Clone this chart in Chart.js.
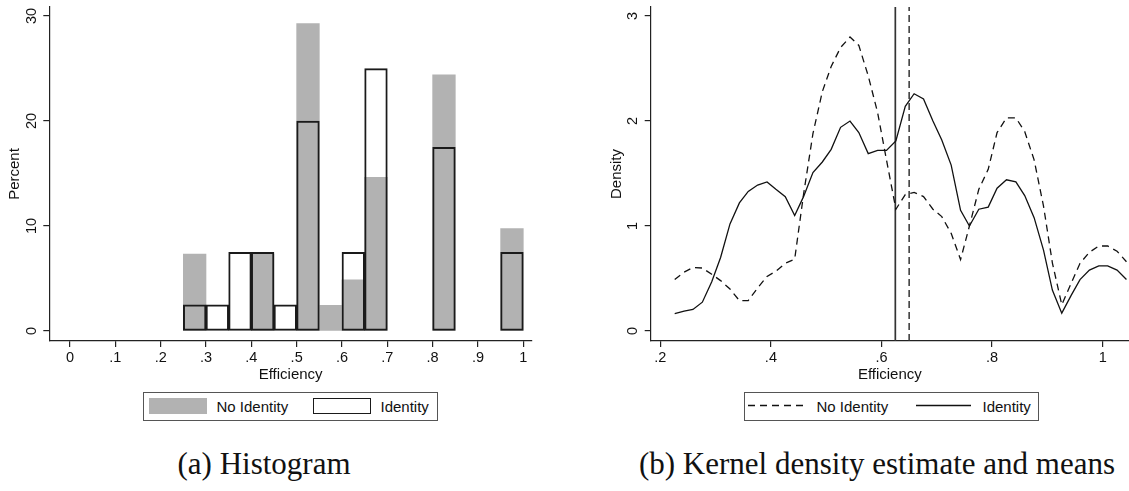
<!DOCTYPE html>
<html>
<head>
<meta charset="utf-8">
<title>Efficiency by identity</title>
<script src="https://cdn.jsdelivr.net/npm/chart.js@4.4.1/dist/chart.umd.min.js"></script>
<style>
  html, body { margin: 0; padding: 0; background: #fff; }
  body {
    width: 1129px; height: 491px; position: relative; overflow: hidden;
    font-family: "Liberation Sans", Arial, Helvetica, sans-serif; color: #111;
  }
  .panel { position: absolute; top: 0; height: 390px; }
  #hist-wrap { left: 0; width: 545px; }
  #kde-wrap { left: 600px; width: 529px; }

  .legend {
    position: absolute; top: 392px; width: 295px; height: 29px;
    box-sizing: border-box; border: 1px solid #555; font-size: 15px;
  }
  #hist-legend { left: 143px; }
  #kde-legend { left: 744px; }
  .legend span { position: absolute; top: 0; line-height: 27px; white-space: nowrap; }
  .legend .box { position: absolute; top: 5px; width: 58px; height: 16px; box-sizing: border-box; }
  .legend svg { position: absolute; top: 0; }

  .caption {
    position: absolute; top: 448px; transform: translateX(-50%);
    font-family: "Liberation Serif", "DejaVu Serif", serif;
    font-size: 31px; line-height: 31px; white-space: nowrap; color: #111;
  }
</style>
</head>
<body>
<div id="hist-wrap" class="panel"><canvas id="hist" width="545" height="390"></canvas></div>
<div id="kde-wrap" class="panel"><canvas id="kde" width="529" height="390"></canvas></div>
<div id="hist-legend" class="legend"></div>
<div id="kde-legend" class="legend"></div>
<div class="caption" style="left:264px">(a) Histogram</div>
<div class="caption" style="left:877px">(b) Kernel density estimate and means</div>

<script>
// groups
const SERIES = ['No Identity', 'Identity'];

// histogram: bins of width .05, percent of subjects per bin
const BIN_CENTERS = [0.275, 0.325, 0.375, 0.425, 0.475, 0.525, 0.575, 0.625,
                     0.675, 0.725, 0.775, 0.825, 0.875, 0.925, 0.975];
const PCT_NO_IDENTITY = [7.32, null, null, 7.32, null, 29.27, 2.44, 4.88,
                         14.63, null, null, 24.39, null, null, 9.76];
const PCT_IDENTITY = [2.5, 2.5, 7.5, 7.5, 2.5, 20, null, 7.5,
                      25, null, null, 17.5, null, null, 7.5];

const HIST_X_TICKS = [0, 0.1, 0.2, 0.3, 0.4, 0.5, 0.6, 0.7, 0.8, 0.9, 1];
const HIST_X_LABELS = ['0', '.1', '.2', '.3', '.4', '.5', '.6', '.7', '.8', '.9', '1'];
const HIST_Y_TICKS = [0, 10, 20, 30];
const HIST_Y_LABELS = ['0', '10', '20', '30'];

// kernel density estimates
const KDE_X = [0.226, 0.243, 0.259, 0.276, 0.293, 0.309, 0.326, 0.343, 0.359, 0.376,
               0.393, 0.409, 0.426, 0.443, 0.459, 0.476, 0.493, 0.509, 0.526, 0.543,
               0.559, 0.576, 0.593, 0.609, 0.626, 0.643, 0.659, 0.676, 0.693, 0.709,
               0.726, 0.743, 0.759, 0.776, 0.793, 0.809, 0.826, 0.843, 0.859, 0.876,
               0.893, 0.909, 0.926, 0.943, 0.959, 0.976, 0.993, 1.009, 1.026, 1.043];
const KDE_NO_IDENTITY = [0.49, 0.56, 0.605, 0.60, 0.54, 0.48, 0.40, 0.29, 0.29, 0.41,
                         0.52, 0.57, 0.645, 0.685, 1.30, 1.88, 2.28, 2.52, 2.70, 2.80,
                         2.72, 2.43, 2.08, 1.63, 1.16, 1.30, 1.32, 1.28, 1.16, 1.09,
                         0.93, 0.68, 1.00, 1.35, 1.54, 1.89, 2.03, 2.03, 1.90, 1.63,
                         1.19, 0.65, 0.25, 0.455, 0.645, 0.75, 0.81, 0.81, 0.76, 0.66];
const KDE_IDENTITY = [0.165, 0.19, 0.206, 0.275, 0.47, 0.70, 1.02, 1.22, 1.33, 1.39,
                      1.42, 1.35, 1.28, 1.10, 1.28, 1.51, 1.61, 1.73, 1.94, 2.00,
                      1.89, 1.69, 1.72, 1.72, 1.81, 2.14, 2.26, 2.21, 2.00, 1.82,
                      1.58, 1.15, 1.00, 1.16, 1.18, 1.36, 1.44, 1.42, 1.29, 1.08,
                      0.77, 0.39, 0.17, 0.34, 0.49, 0.58, 0.62, 0.62, 0.58, 0.49];
const MEAN_NO_IDENTITY = 0.65;
const MEAN_IDENTITY = 0.625;

const KDE_X_TICKS = [0.2, 0.4, 0.6, 0.8, 1];
const KDE_X_LABELS = ['.2', '.4', '.6', '.8', '1'];
const KDE_Y_TICKS = [0, 1, 2, 3];
const KDE_Y_LABELS = ['0', '1', '2', '3'];

Chart.defaults.font.family = '"Liberation Sans", Arial, Helvetica, sans-serif';
Chart.defaults.font.size = 15;
Chart.defaults.color = '#111';

const AXIS_COLOR = '#222';
const BAR_GRAY = '#b2b2b2';

function fixedTicks(values) {
    return scale => { scale.ticks = values.map(v => ({ value: v })); };
}

function xAxis(min, max, ticks, labels) {
    return {
        type: 'linear', min: min, max: max,
        offset: false,
        afterBuildTicks: fixedTicks(ticks),
        afterFit: s => { s.height = 49; s.paddingLeft = 0; s.paddingRight = 0; },
        grid: { offset: false, drawOnChartArea: false, drawTicks: true, tickLength: 6,
                color: AXIS_COLOR, lineWidth: 1.2 },
        border: { display: true, color: AXIS_COLOR, width: 1.2 },
        ticks: { autoSkip: false, maxRotation: 0, padding: 2, font: { size: 14.5 },
                 callback: (v, i) => labels[i] },
        title: { display: true, text: 'Efficiency', padding: { top: 0, bottom: 6 } }
    };
}

function yAxis(min, max, ticks, labels, title, width, labelPad, titlePad) {
    return {
        type: 'linear', min: min, max: max,
        afterBuildTicks: fixedTicks(ticks),
        afterFit: s => { s.width = width; s.paddingTop = 0; s.paddingBottom = 0; },
        grid: { drawOnChartArea: false, drawTicks: true, tickLength: 6, color: AXIS_COLOR, lineWidth: 1.2 },
        border: { display: true, color: AXIS_COLOR, width: 1.2 },
        ticks: { autoSkip: false, minRotation: 90, maxRotation: 90, crossAlign: 'center',
                 padding: labelPad, font: { size: 14.5 }, callback: (v, i) => labels[i] },
        title: { display: true, text: title, padding: { top: titlePad, bottom: 0 } }
    };
}

const quiet = { legend: { display: false }, tooltip: { enabled: false } };

// (a) overlaid histograms
new Chart(document.getElementById('hist'), {
    type: 'bar',
    data: {
        datasets: [
            {
                label: SERIES[1],
                data: BIN_CENTERS.map((x, i) => ({ x: x, y: PCT_IDENTITY[i] })),
                backgroundColor: 'rgba(0,0,0,0)',
                borderColor: '#1a1a1a',
                borderWidth: 1.3,
                borderSkipped: false,
                grouped: false, barPercentage: 1, categoryPercentage: 1,
                order: 0
            },
            {
                label: SERIES[0],
                data: BIN_CENTERS.map((x, i) => ({ x: x, y: PCT_NO_IDENTITY[i] })),
                backgroundColor: BAR_GRAY,
                borderWidth: 0,
                grouped: false, barPercentage: 1, categoryPercentage: 1,
                order: 1
            }
        ]
    },
    options: {
        responsive: false,
        animation: false,
        layout: { padding: { top: 7, right: 13, bottom: 0, left: 0 } },
        plugins: quiet,
        scales: {
            x: xAxis(-0.0457, 1.0192, HIST_X_TICKS, HIST_X_LABELS),
            y: yAxis(-0.95, 30.86, HIST_Y_TICKS, HIST_Y_LABELS, 'Percent', 49.3, 3.5, 6)
        }
    }
});

// (b) kernel densities with group means
const KDE_Y_MIN = -0.095;
const KDE_Y_MAX = 3.086;
const lineStyle = { borderColor: '#111', borderWidth: 1.3, pointRadius: 0, tension: 0, fill: false };

new Chart(document.getElementById('kde'), {
    type: 'line',
    data: {
        datasets: [
            Object.assign({
                label: SERIES[0],
                data: KDE_X.map((x, i) => ({ x: x, y: KDE_NO_IDENTITY[i] })),
                borderDash: [7, 5]
            }, lineStyle),
            Object.assign({
                label: SERIES[1],
                data: KDE_X.map((x, i) => ({ x: x, y: KDE_IDENTITY[i] }))
            }, lineStyle),
            Object.assign({}, lineStyle, {
                label: 'mean ' + SERIES[0],
                data: [{ x: MEAN_NO_IDENTITY, y: KDE_Y_MIN }, { x: MEAN_NO_IDENTITY, y: KDE_Y_MAX }],
                borderColor: '#333', borderWidth: 1.5, borderDash: [7, 4]
            }),
            Object.assign({}, lineStyle, {
                label: 'mean ' + SERIES[1],
                data: [{ x: MEAN_IDENTITY, y: KDE_Y_MIN }, { x: MEAN_IDENTITY, y: KDE_Y_MAX }],
                borderColor: '#333', borderWidth: 1.7
            })
        ]
    },
    options: {
        responsive: false,
        animation: false,
        layout: { padding: { top: 7, right: 0, bottom: 0, left: 0 } },
        plugins: quiet,
        scales: {
            x: xAxis(0.1826, 1.0476, KDE_X_TICKS, KDE_X_LABELS),
            y: yAxis(KDE_Y_MIN, KDE_Y_MAX, KDE_Y_TICKS, KDE_Y_LABELS, 'Density', 50.7, 8, 8)
        }
    }
});

// legends under each panel
function legendText(parent, text, left) {
    const s = document.createElement('span');
    s.textContent = text;
    s.style.left = left + 'px';
    parent.appendChild(s);
}

function legendBox(parent, left, fill, border) {
    const b = document.createElement('div');
    b.className = 'box';
    b.style.left = left + 'px';
    b.style.background = fill;
    if (border) b.style.border = border;
    parent.appendChild(b);
}

function legendLine(parent, left, width, dash) {
    const ns = 'http://www.w3.org/2000/svg';
    const svg = document.createElementNS(ns, 'svg');
    svg.setAttribute('width', width);
    svg.setAttribute('height', 27);
    svg.style.left = left + 'px';
    const ln = document.createElementNS(ns, 'line');
    ln.setAttribute('x1', 0); ln.setAttribute('x2', width);
    ln.setAttribute('y1', 12.5); ln.setAttribute('y2', 12.5);
    ln.setAttribute('stroke', '#111');
    ln.setAttribute('stroke-width', 1.3);
    if (dash) ln.setAttribute('stroke-dasharray', dash.join(' '));
    svg.appendChild(ln);
    parent.appendChild(svg);
}

const histLegend = document.getElementById('hist-legend');
legendBox(histLegend, 5, BAR_GRAY, null);
legendText(histLegend, SERIES[0], 72.5);
legendBox(histLegend, 168.5, '#fff', '1.3px solid #1a1a1a');
legendText(histLegend, SERIES[1], 236.5);

const kdeLegend = document.getElementById('kde-legend');
legendLine(kdeLegend, 2.5, 60, [7, 5]);
legendText(kdeLegend, SERIES[0], 71.5);
legendLine(kdeLegend, 171, 55, null);
legendText(kdeLegend, SERIES[1], 237.5);
</script>
</body>
</html>
